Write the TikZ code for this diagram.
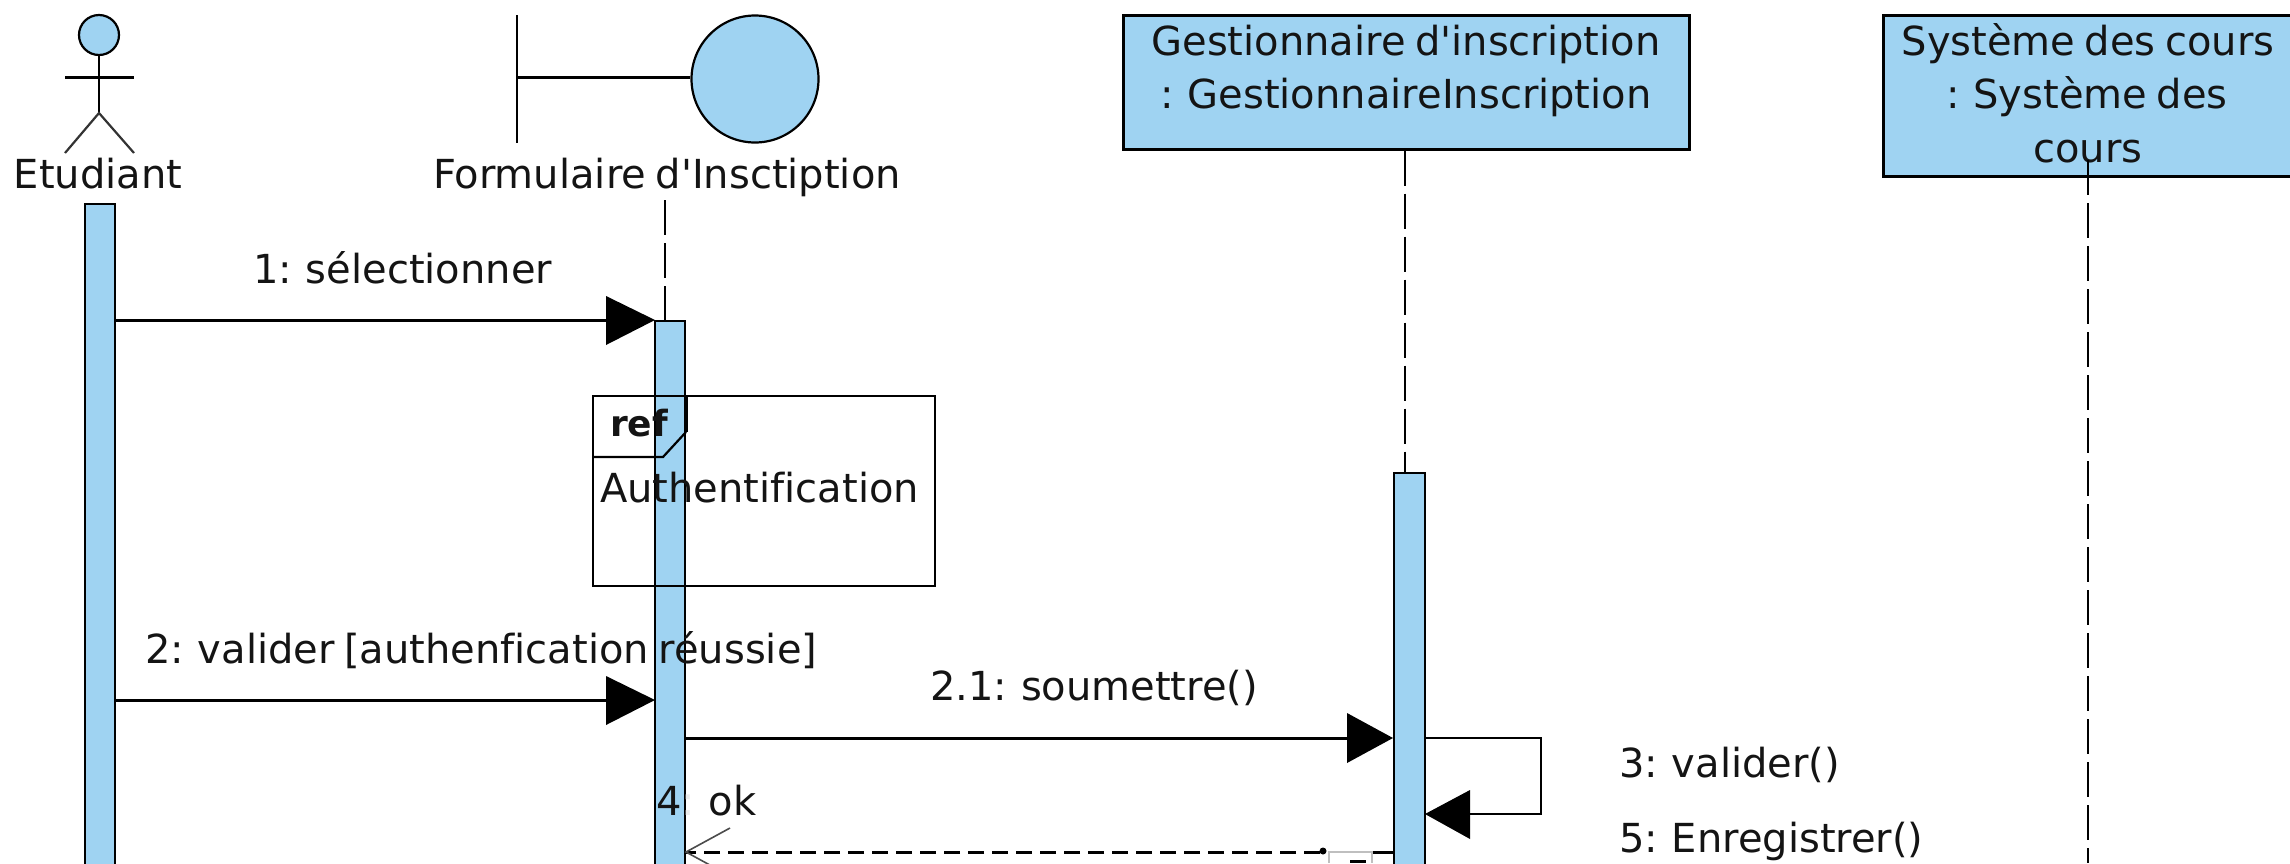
\documentclass[tikz,border=0pt]{standalone}
\usepackage{fontspec}
\setmainfont{DejaVu Sans}[Ligatures={TeXOff,NoCommon},WordSpace=0.75]
\definecolor{umlblue}{HTML}{9FD3F2}
\tikzset{
  x=1pt,y=-1pt,
  lbl/.style={inner sep=0pt,anchor=base west,font=\fontsize{40}{40}\selectfont,text=black!92},
  lblc/.style={inner sep=0pt,anchor=base,font=\fontsize{40}{40}\selectfont,text=black!92},
  bar/.style={draw=black,fill=umlblue,line width=2.2pt,rectangle,inner sep=0pt,anchor=north west},
  obj/.style={draw=black,fill=umlblue,line width=3pt,rectangle,inner sep=0pt},
  life/.style={draw=black,line width=2.2pt,dash pattern=on 35pt off 8pt},
  msg/.style={draw=black,line width=3pt},
  ret/.style={draw=black,line width=3pt,dash pattern=on 16pt off 8pt},
  headf/.style={fill=black,draw=none},
  openh/.style={draw=black!70,line width=1.6pt},
}
\begin{document}
\begin{tikzpicture}
\useasboundingbox (0,0) rectangle (2290,863);
\clip (0,0) rectangle (2290,863);
% actor
\node[draw=black,fill=umlblue,line width=2.2pt,circle,inner sep=0pt,minimum size=40pt] (head) at (99,35) {};
\coordinate (hip) at (99,113);
\draw[line width=2.2pt] (head.south) -- (hip);
\draw[line width=3pt] (65,77) -- (134,77);
\draw[line width=2.2pt,black!80] (65,153) -- (hip) -- (134,153);
\node[lblc] (etu) at (98,188) {Etudiant};
% boundary
\node[draw=black,fill=umlblue,line width=2.2pt,circle,inner sep=0pt,minimum size=127pt] (bnd) at (755,79) {};
\coordinate (bl) at (517,77);
\draw[line width=2.2pt] (517,15) -- (517,143);
\draw[line width=3pt] (bl) -- (bl -| bnd.west);
\node[lblc] (form) at (667,188) {Formulaire d'Insctiption};
% objects
\node[obj,minimum width=566pt,minimum height=134pt] (gest) at (1406,82) {};
\node[lblc] (g1) at (1406,55) {Gestionnaire d'inscription};
\node[lblc] (g2) at (1406,108) {: GestionnaireInscription};
\node[fill=umlblue,rectangle,inner sep=0pt,minimum width=407pt,minimum height=161pt,anchor=north west] (sys) at (1883,15) {};
\draw[line width=3pt] (sys.north east) -- (sys.north west) -- (sys.south west) -- (sys.south east);
\node[lblc] (s1) at (2088,55) {Système des cours};
\node[lblc] (s2) at (2087,108) {: Système des};
\node[lblc] (s3) at (2088,162) {cours};
% activations
\node[bar,minimum width=30pt,minimum height=680pt] (aE) at (84,203) {};
\node[bar,minimum width=30pt,minimum height=560pt] (aF) at (654,320) {};
\node[bar,minimum width=31pt,minimum height=410pt] (aG) at (1393,472) {};
% lifelines
\coordinate (lfT) at (665,200);
\coordinate (lfB) at (665,320);
\coordinate (lgB) at (1405,472);
\coordinate (lsT) at (2088,160);
\coordinate (lsB) at (2088,863);
\draw[life] (lfT) -- (lfB);
\draw[life] (gest.south -| lgB) -- (lgB);
\draw[life] (lsT) -- (lsB);
% ref
\coordinate (r1) at (593,396);
\coordinate (r2) at (935,586);
\draw[line width=2.2pt] (r1) rectangle (r2);
\draw[line width=2.2pt] (593,457) -- (663,457) -- (686,432);
\draw[line width=4pt] (686,432) -- (686,396);
\node[lbl,font=\fontsize{36}{36}\selectfont\bfseries] (rf) at (610,436) {ref};
\node[lbl] (auth) at (600,502) {Authentification};
% messages
\coordinate (m1a) at (115,320); \coordinate (m1b) at (606,320);
\draw[msg] (m1a) -- (m1b);
\fill[headf] (606,296) -- (655,320) -- (606,345) -- cycle;
\node[lbl] (t1) at (253,283) {1: sélectionner};
\coordinate (m2a) at (115,700); \coordinate (m2b) at (606,700);
\draw[msg] (m2a) -- (m2b);
\fill[headf] (606,676) -- (655,700) -- (606,725) -- cycle;
\node[lbl] (t2) at (145,663) {2: valider [authenfication réussie]};
\coordinate (m3a) at (684,738); \coordinate (m3b) at (1347,738);
\draw[msg] (m3a) -- (m3b);
\fill[headf] (1347,713) -- (1393,738) -- (1347,763) -- cycle;
\node[lbl] (t3) at (930,700) {2.1: soumettre()};
\coordinate (sa) at (1424,738); \coordinate (sb) at (1470,814);
\draw[line width=2.6pt] (sa) -- (1541,738) -- (1541,814) -- (sb);
\fill[headf] (1470,790) -- (1425,814) -- (1470,839) -- cycle;
\node[lbl] (t4) at (1619,777) {3: valider()};
\node[lbl] (t5) at (1619,852) {5: Enregistrer()};
\node[lbl] (t6) at (656,815) {4{\color{black!8}:} ok};
\coordinate (ra) at (1393,852); \coordinate (rb) at (686,852); \coordinate (rc) at (1320,852);
\draw[msg] (ra) -- (1373,852);
\draw[ret] (rc) -- (rb);
\draw[openh] (730,828) -- (rb) -- (730,876);
% small clipped label at the bottom edge
\draw[black!25,line width=1.5pt] (1329,863) -- (1329,852) -- (1372,852) -- (1372,863);
\fill[black] (1350,860) rectangle (1366,863);
\fill[black] (1323,851) circle (3.5pt);
\end{tikzpicture}
\end{document}
